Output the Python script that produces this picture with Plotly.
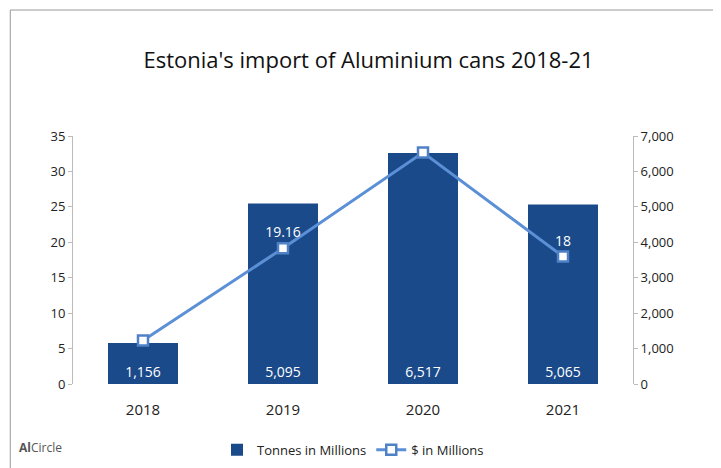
import plotly.graph_objects as go

years = ["2018", "2019", "2020", "2021"]
tonnes = [1156, 5095, 6517, 5065]
dollars = [6.15, 19.16, 32.66, 18]
tonne_labels = ["1,156", "5,095", "6,517", "5,065"]
dollar_labels = ["6.15", "19.16", "32.66", "18"]

fig = go.Figure()
fig.add_trace(go.Bar(
    x=years, y=tonnes, name="Tonnes in Millions", yaxis="y",
    marker=dict(color="#1b4a8a", line=dict(width=0)), width=0.5,
    text=tonne_labels, textposition="inside", insidetextanchor="start",
    textfont=dict(color="white", size=14),
))
fig.add_trace(go.Scatter(
    x=years, y=dollars, name="$ in Millions", mode="lines+markers+text",
    yaxis="y2",
    line=dict(color="#5b8fd6", width=3),
    marker=dict(symbol="square", size=10, color="white",
                line=dict(width=2.5, color="#4f81c7")),
    text=dollar_labels, textposition="top center",
    textfont=dict(color="white", size=14),
))

axis_common = dict(showgrid=False, zeroline=False, showline=True, linecolor="#bbb",
                   ticks="outside", tickcolor="#bbb", ticklen=4,
                   tickfont=dict(size=13))
fig.update_layout(
    width=721, height=468,
    paper_bgcolor="white", plot_bgcolor="white",
    font=dict(family="Open Sans, Liberation Sans, sans-serif", color="#222"),
    title=dict(text="Estonia's import of Aluminium cans 2018-21", x=0.5, y=0.905,
               xanchor="center", font=dict(size=22, color="#111")),
    margin=dict(l=65, r=96, t=128, b=91),
    xaxis=dict(tickfont=dict(size=15), showline=False, ticks="outside",
               ticklen=12, tickcolor="rgba(0,0,0,0)"),
    yaxis=dict(range=[0, 7000], dtick=1000, side="right", tickformat=",", **axis_common),
    yaxis2=dict(range=[0, 35], dtick=5, overlaying="y", side="left", **axis_common),
    legend=dict(orientation="h", x=0.5, xanchor="center", y=-0.2, yanchor="top",
                font=dict(size=13)),
    shapes=[dict(type="rect", xref="paper", yref="paper", x0=-0.112, x1=1.166,
                 y0=-0.355, y1=1.508, line=dict(color="#999", width=1))],
    annotations=[dict(text="<b>Al</b>Circle", xref="paper", yref="paper",
                      x=-0.1, y=-0.3, xanchor="left", showarrow=False,
                      font=dict(size=12, color="#555"))],
)
fig.write_html("out.html")
